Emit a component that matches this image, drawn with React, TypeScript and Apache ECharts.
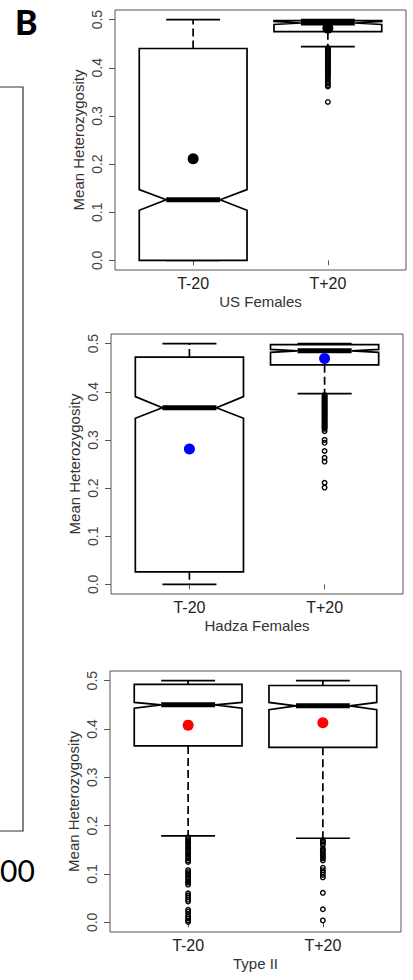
import React, { useEffect, useRef } from "react";
import * as echarts from "echarts";

// Group labels on each x axis
const groups = ["T-20", "T+20"];
const panelTitles = ["US Females", "Hadza Females", "Type II"];
const yTicks = [0, 0.1, 0.2, 0.3, 0.4, 0.5];

// Box statistics per group:
// [lower whisker, Q1, notch low, median, notch high, Q3, upper whisker]
const usStats = [
  [0.0, 0.0, 0.104, 0.126, 0.147, 0.44, 0.5],
  [0.444, 0.475, 0.49, 0.493, 0.496, 0.498, 0.5],
];
const hadzaStats = [
  [0.0, 0.026, 0.345, 0.367, 0.39, 0.472, 0.5],
  [0.396, 0.456, 0.482, 0.485, 0.488, 0.498, 0.5],
];
const type2Stats = [
  [0.179, 0.365, 0.443, 0.45, 0.455, 0.4925, 0.5],
  [0.174, 0.362, 0.44, 0.448, 0.455, 0.49, 0.5],
];

// Group means
const usMeans = [0.211, 0.482];
const hadzaMeans = [0.281, 0.469];
const type2Means = [0.408, 0.413];

// Outlying values per group
const usOutliersT20: number[] = [];
const usOutliersTp20 = [
  0.441, 0.439, 0.437, 0.435, 0.433, 0.431, 0.429, 0.427, 0.425, 0.423, 0.421,
  0.419, 0.417, 0.415, 0.413, 0.411, 0.409, 0.407, 0.405, 0.403, 0.401, 0.399,
  0.397, 0.395, 0.393, 0.391, 0.389, 0.387, 0.385, 0.382, 0.378, 0.375, 0.371,
  0.368, 0.364, 0.361, 0.329,
];
const hadzaOutliersT20: number[] = [];
const hadzaOutliersTp20 = [
  0.393, 0.391, 0.389, 0.387, 0.385, 0.383, 0.381, 0.379, 0.377, 0.375, 0.373,
  0.371, 0.369, 0.367, 0.365, 0.363, 0.361, 0.359, 0.357, 0.355, 0.353, 0.351,
  0.349, 0.347, 0.345, 0.343, 0.341, 0.339, 0.337, 0.335, 0.333, 0.331, 0.329,
  0.327, 0.325, 0.323, 0.318, 0.3, 0.294, 0.277, 0.263, 0.255, 0.211, 0.201,
];
const type2OutliersT20 = [
  0.176, 0.172, 0.168, 0.165, 0.161, 0.157, 0.154, 0.15, 0.147, 0.143, 0.14,
  0.136, 0.132, 0.128, 0.125, 0.108, 0.104, 0.1, 0.097, 0.093, 0.089, 0.085,
  0.082, 0.078, 0.06, 0.056, 0.052, 0.047, 0.043, 0.026, 0.022, 0.017, 0.012,
  0.008, 0.004, 0.001,
];
const type2OutliersTp20 = [
  0.17, 0.167, 0.164, 0.16, 0.152, 0.149, 0.146, 0.142, 0.139, 0.135, 0.132,
  0.128, 0.113, 0.108, 0.103, 0.098, 0.093, 0.061, 0.027, 0.004,
];

const panels = [
  { stats: usStats, means: usMeans, outliers: [usOutliersT20, usOutliersTp20], meanColor: "#000000" },
  { stats: hadzaStats, means: hadzaMeans, outliers: [hadzaOutliersT20, hadzaOutliersTp20], meanColor: "#0000ff" },
  { stats: type2Stats, means: type2Means, outliers: [type2OutliersT20, type2OutliersTp20], meanColor: "#ff0000" },
];

const grids = [
  { left: 115, top: 10, width: 291, height: 260 },
  { left: 111, top: 334, width: 292, height: 260 },
  { left: 110, top: 671, width: 291, height: 261 },
];

const FONT = "'Liberation Sans', Arial, sans-serif";

function renderNotchedBox(params: any, api: any) {
  const x = api.value(0);
  const wLo = api.value(1);
  const q1 = api.value(2);
  const nLo = api.value(3);
  const med = api.value(4);
  const nHi = api.value(5);
  const q3 = api.value(6);
  const wHi = api.value(7);
  const hw = api.size([0.4, 0])[0];
  const cx = api.coord([x, med])[0];
  const py = (v: number) => api.coord([x, v])[1];
  const lw = 1.7;
  const children: any[] = [];
  // whiskers (dashed) and staples
  if (wHi > q3) {
    children.push({
      type: "line",
      shape: { x1: cx, y1: py(q3), x2: cx, y2: py(wHi) },
      style: { stroke: "#000", lineWidth: lw, lineDash: [8, 4] },
    });
  }
  children.push({
    type: "line",
    shape: { x1: cx - hw / 2, y1: py(wHi), x2: cx + hw / 2, y2: py(wHi) },
    style: { stroke: "#000", lineWidth: lw },
  });
  if (wLo < q1) {
    children.push({
      type: "line",
      shape: { x1: cx, y1: py(q1), x2: cx, y2: py(wLo) },
      style: { stroke: "#000", lineWidth: lw, lineDash: [8, 4] },
    });
  }
  children.push({
    type: "line",
    shape: { x1: cx - hw / 2, y1: py(wLo), x2: cx + hw / 2, y2: py(wLo) },
    style: { stroke: "#000", lineWidth: lw },
  });
  // notched box
  children.push({
    type: "polygon",
    shape: {
      points: [
        [cx - hw, py(q1)],
        [cx - hw, py(nLo)],
        [cx - hw / 2, py(med)],
        [cx - hw, py(nHi)],
        [cx - hw, py(q3)],
        [cx + hw, py(q3)],
        [cx + hw, py(nHi)],
        [cx + hw / 2, py(med)],
        [cx + hw, py(nLo)],
        [cx + hw, py(q1)],
      ],
    },
    style: { fill: "#ffffff", stroke: "#000", lineWidth: lw, lineJoin: "miter" },
  });
  // median
  children.push({
    type: "line",
    shape: { x1: cx - hw / 2, y1: py(med), x2: cx + hw / 2, y2: py(med) },
    style: { stroke: "#000", lineWidth: 5 },
  });
  return { type: "group", children };
}

export default function App() {
  const ref = useRef<HTMLDivElement>(null);

  useEffect(() => {
    document.body.style.margin = "0";
    if (!ref.current) return;
    const chart = echarts.init(ref.current, null, { renderer: "svg" });

    const xAxis = grids.map((_, i) => ({
      type: "value",
      gridIndex: i,
      min: 0.42,
      max: 2.58,
      name: panelTitles[i],
      nameLocation: "middle",
      nameGap: 24,
      nameMoveOverlap: false,
      nameTextStyle: { fontFamily: FONT, fontSize: 15, color: "#333" },
      axisLine: { show: false },
      axisTick: { show: true, length: 5, customValues: [1, 2], lineStyle: { color: "#555" } },
      axisLabel: {
        customValues: [1, 2],
        margin: 5,
        fontFamily: FONT,
        fontSize: 16,
        color: "#222",
        formatter: (v: number) => groups[Math.round(v) - 1],
      },
      splitLine: { show: false },
    }));

    const yAxis = grids.map((_, i) => ({
      type: "value",
      gridIndex: i,
      min: -0.02,
      max: 0.52,
      name: "Mean Heterozygosity",
      nameLocation: "middle",
      nameGap: 29,
      nameRotate: 90,
      nameMoveOverlap: false,
      nameTextStyle: { fontFamily: FONT, fontSize: 15, color: "#333" },
      axisLine: { show: false },
      axisTick: { show: true, length: 6, customValues: yTicks, lineStyle: { color: "#555" } },
      axisLabel: {
        customValues: yTicks,
        rotate: 90,
        margin: 11,
        fontFamily: FONT,
        fontSize: 14,
        color: "#444",
        formatter: (v: number) => v.toFixed(1),
      },
      splitLine: { show: false },
    }));

    const series: any[] = [];
    panels.forEach((p, i) => {
      series.push({
        type: "custom",
        xAxisIndex: i,
        yAxisIndex: i,
        renderItem: renderNotchedBox,
        encode: { x: 0, y: [1, 2, 3, 4, 5, 6, 7] },
        data: p.stats.map((s, g) => [g + 1, ...s]),
        z: 2,
      });
      const outData: number[][] = [];
      p.outliers.forEach((vals, g) => vals.forEach((v) => outData.push([g + 1, v])));
      series.push({
        type: "scatter",
        xAxisIndex: i,
        yAxisIndex: i,
        symbol: "circle",
        symbolSize: 4.5,
        itemStyle: { color: "rgba(0,0,0,0)", borderColor: "#000", borderWidth: 1.4, opacity: 1 },
        data: outData,
        z: 3,
      });
      series.push({
        type: "scatter",
        xAxisIndex: i,
        yAxisIndex: i,
        symbol: "circle",
        symbolSize: 11,
        itemStyle: { color: p.meanColor, opacity: 1 },
        data: p.means.map((m, g) => [g + 1, m]),
        z: 4,
      });
    });

    chart.setOption({
      animation: false,
      backgroundColor: "#ffffff",
      grid: grids.map((g) => ({
        ...g,
        show: true,
        borderColor: "#555",
        borderWidth: 1,
        backgroundColor: "transparent",
      })),
      xAxis,
      yAxis,
      series,
      graphic: [
        {
          type: "text",
          x: 15,
          y: 4,
          style: {
            text: "B",
            fontFamily: "Lato, 'Open Sans', sans-serif",
            fontWeight: 900,
            fontSize: 34,
            fill: "#000",
          },
        },
        {
          type: "polyline",
          shape: { points: [[0, 87], [23, 87], [23, 831], [0, 831]] },
          style: { stroke: "#333", lineWidth: 1.2, fill: "none" },
        },
        {
          type: "text",
          x: 0,
          y: 870,
          style: {
            text: "00",
            align: "left",
            verticalAlign: "middle",
            fontFamily: "Lato, 'Open Sans', sans-serif",
            fontSize: 30,
            fill: "#000",
          },
        },
      ],
    });

    return () => chart.dispose();
  }, []);

  return <div ref={ref} style={{ width: 413, height: 980 }} />;
}
